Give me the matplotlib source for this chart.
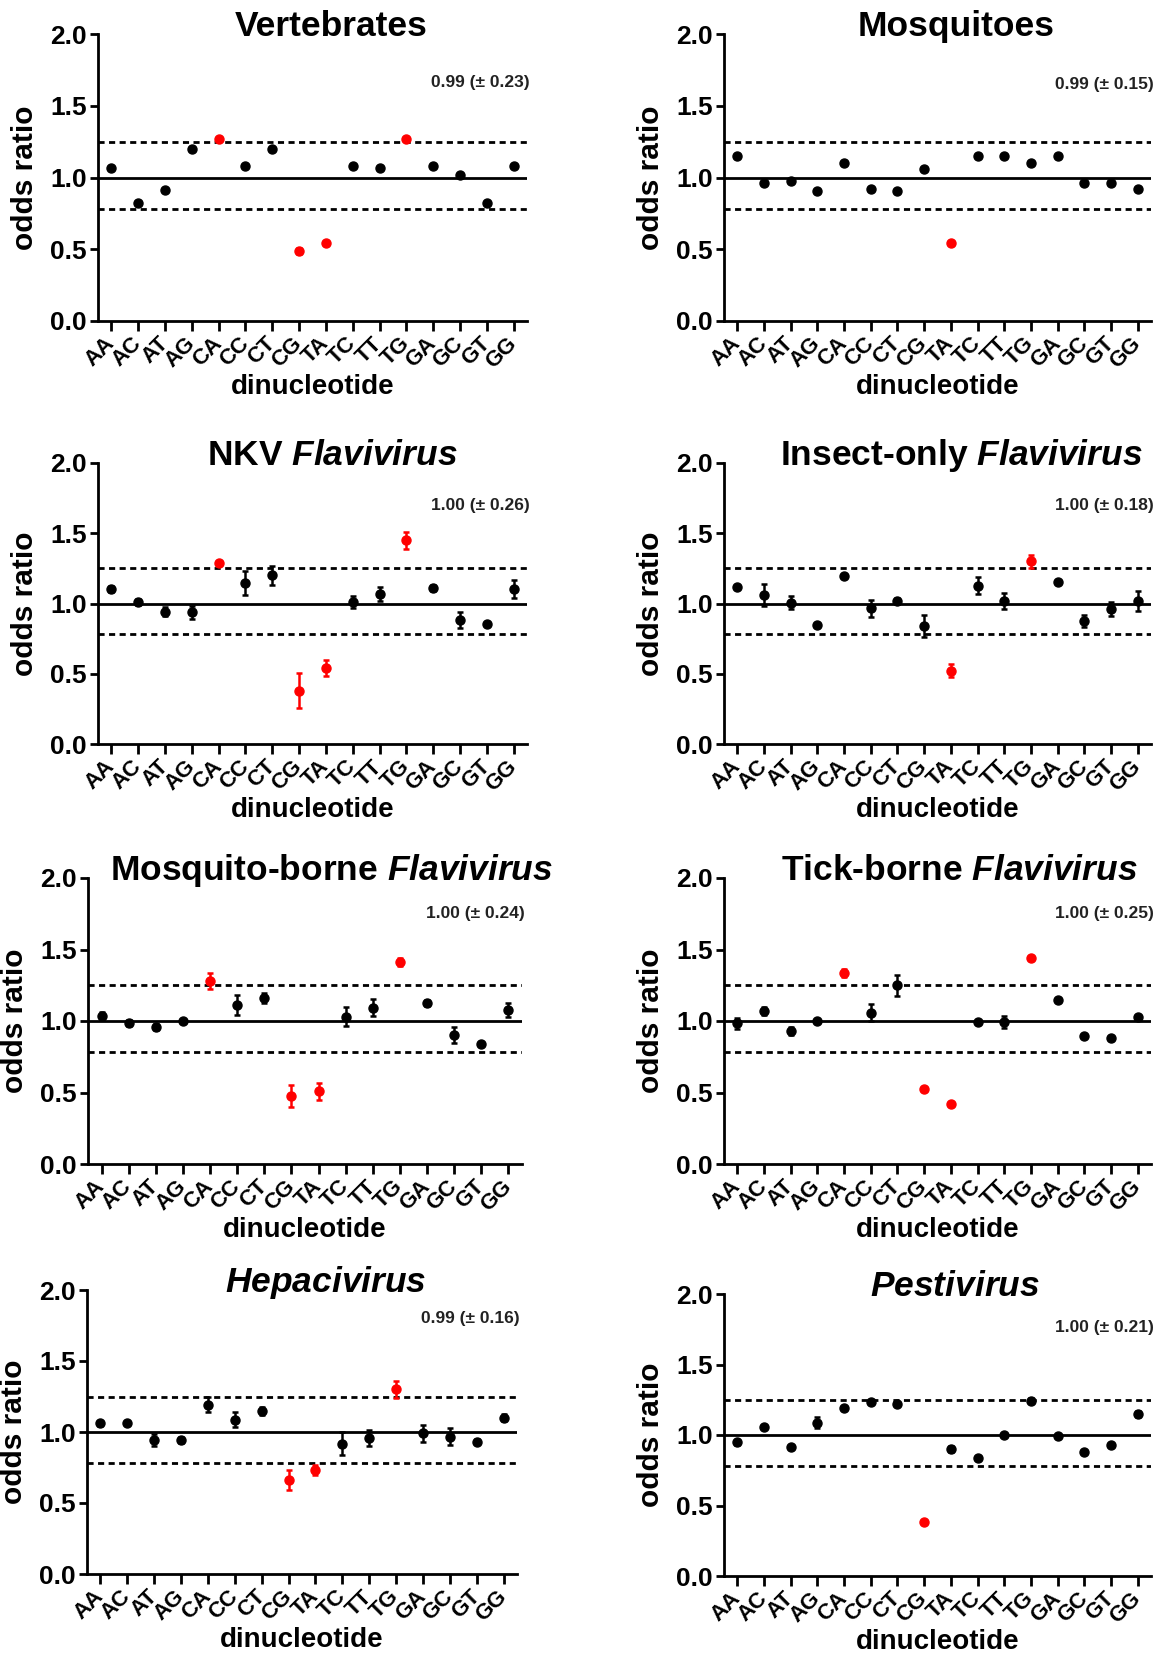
import numpy as np
import matplotlib
matplotlib.use("Agg")
import matplotlib.pyplot as plt
from matplotlib.transforms import offset_copy

plt.rcParams['font.family'] = ['Liberation Sans', 'DejaVu Sans']
plt.rcParams['font.weight'] = 'bold'
plt.rcParams['mathtext.fontset'] = 'custom'
plt.rcParams['mathtext.it'] = 'Liberation Sans:italic:bold'
plt.rcParams['mathtext.rm'] = 'Liberation Sans:bold'
plt.rcParams['mathtext.bf'] = 'Liberation Sans:bold'

dinucs = ["AA", "AC", "AT", "AG", "CA", "CC", "CT", "CG",
          "TA", "TC", "TT", "TG", "GA", "GC", "GT", "GG"]

titles = ["Vertebrates", "Mosquitoes",
          r"NKV $\mathit{Flavivirus}$", r"Insect-only $\mathit{Flavivirus}$",
          r"Mosquito-borne $\mathit{Flavivirus}$", r"Tick-borne $\mathit{Flavivirus}$",
          r"$\mathit{Hepacivirus}$", r"$\mathit{Pestivirus}$"]
summary = ["0.99 (± 0.23)", "0.99 (± 0.15)", "1.00 (± 0.26)", "1.00 (± 0.18)",
           "1.00 (± 0.24)", "1.00 (± 0.25)", "0.99 (± 0.16)", "1.00 (± 0.21)"]

# mean odds ratio per dinucleotide and error (half-length of bars)
vert = [1.065, 0.82, 0.91, 1.20, 1.267, 1.08, 1.20, 0.49,
        0.546, 1.077, 1.065, 1.267, 1.077, 1.02, 0.82, 1.08]
vert_err = [0, 0, 0, 0, 0, 0, 0, 0.02, 0, 0, 0, 0, 0, 0, 0, 0]
mosq = [1.15, 0.963, 0.975, 0.905, 1.10, 0.92, 0.905, 1.058,
        0.546, 1.15, 1.15, 1.10, 1.15, 0.963, 0.963, 0.92]
mosq_err = [0] * 16
nkv = [1.104, 1.01, 0.942, 0.937, 1.287, 1.144, 1.20, 0.38,
       0.542, 1.01, 1.07, 1.451, 1.109, 0.882, 0.855, 1.10]
nkv_err = [0.02, 0.02, 0.03, 0.046, 0.015, 0.087, 0.07, 0.127,
           0.058, 0.04, 0.05, 0.06, 0.02, 0.055, 0, 0.064]
insect = [1.115, 1.06, 1.005, 0.845, 1.197, 0.965, 1.016, 0.84,
          0.52, 1.127, 1.016, 1.30, 1.15, 0.873, 0.963, 1.016]
insect_err = [0, 0.08, 0.045, 0, 0.015, 0.058, 0.02, 0.08,
              0.046, 0.062, 0.058, 0.044, 0, 0.043, 0.051, 0.07]
mbfv = [1.035, 0.984, 0.958, 0.998, 1.28, 1.112, 1.158, 0.477,
        0.507, 1.03, 1.093, 1.414, 1.126, 0.902, 0.837, 1.077]
mbfv_err = [0.025, 0.02, 0.02, 0.015, 0.055, 0.07, 0.035, 0.077,
            0.056, 0.067, 0.058, 0.03, 0.02, 0.058, 0, 0.047]
tbfv = [0.984, 1.07, 0.93, 1.0, 1.337, 1.058, 1.249, 0.523,
        0.423, 0.993, 0.993, 1.442, 1.144, 0.895, 0.879, 1.028]
tbfv_err = [0.038, 0.03, 0.03, 0, 0.03, 0.06, 0.075, 0.015,
            0, 0.015, 0.045, 0, 0, 0, 0, 0]
hepaci = [1.06, 1.06, 0.944, 0.944, 1.193, 1.088, 1.147, 0.665,
          0.735, 0.916, 0.956, 1.30, 0.99, 0.967, 0.933, 1.10]
hepaci_err = [0.02, 0, 0.04, 0.02, 0.05, 0.05, 0.03, 0.07,
              0.035, 0.081, 0.058, 0.058, 0.058, 0.058, 0.02, 0.025]
pesti = [0.947, 1.06, 0.912, 1.088, 1.193, 1.235, 1.221, 0.384,
         0.90, 0.837, 1.0, 1.244, 0.993, 0.879, 0.93, 1.151]
pesti_err = [0.02, 0, 0, 0.04, 0, 0, 0, 0,
             0.02, 0, 0, 0.02, 0, 0, 0, 0.02]

values = [vert, mosq, nkv, insect, mbfv, tbfv, hepaci, pesti]
errors = [vert_err, mosq_err, nkv_err, insect_err, mbfv_err, tbfv_err, hepaci_err, pesti_err]

upper, lower = 1.25, 0.78   # over/under-represented thresholds

W, H = 1153, 1663
# panel boxes in pixels: left, top, right, bottom
boxes = [(98, 34, 527, 321), (724, 34, 1151, 321),
         (98, 463, 527, 744), (724, 463, 1151, 744),
         (88, 878, 522, 1164), (724, 878, 1151, 1164),
         (87, 1290, 517, 1574), (724, 1294, 1151, 1576)]
text_y = [1.66, 1.65, 1.70, 1.70, 1.75, 1.75, 1.80, 1.76]
title_x = [0.543, 0.543, 0.545, 0.556, 0.56, 0.552, 0.555, 0.542]

fig = plt.figure(figsize=(W / 100, H / 100), dpi=100)
x = np.arange(len(dinucs))

for i in range(8):
    l, t, r, b = boxes[i]
    ax = fig.add_axes([l / W, 1 - b / H, (r - l) / W, (b - t) / H])
    v = np.array(values[i])
    e = np.array(errors[i])
    red = (v > upper) | (v < lower)

    ax.axhline(1.0, color='black', lw=2, zorder=1)
    ax.axhline(upper, color='black', lw=2, ls=(0, (2.2, 1.6)), zorder=1)
    ax.axhline(lower, color='black', lw=2, ls=(0, (2.2, 1.6)), zorder=1)

    for mask, col in [(~red, 'black'), (red, '#ff0000')]:
        ax.errorbar(x[mask], v[mask], yerr=e[mask], fmt='o', color=col, ms=6.5,
                    elinewidth=1.8, capsize=2.5, capthick=1.8, zorder=3)

    ax.set_xlim(-0.5, 15.5)
    ax.set_ylim(0, 2.0)
    ax.set_yticks([0, 0.5, 1.0, 1.5, 2.0])
    ax.set_yticklabels(["0.0", "0.5", "1.0", "1.5", "2.0"], fontsize=19, fontweight='bold')
    ax.set_xticks(x)
    ax.set_xticklabels(dinucs, rotation=45, ha='right', va='center',
                       rotation_mode='anchor', fontsize=16, fontweight='bold')
    ax.tick_params(axis='both', direction='out', width=2, length=6, pad=2)
    ax.tick_params(axis='x', length=7, pad=7)
    for s in ['top', 'right']:
        ax.spines[s].set_visible(False)
    for s in ['left', 'bottom']:
        ax.spines[s].set_linewidth(2)

    ax.set_ylabel("odds ratio", fontsize=21.5, fontweight='bold', labelpad=8)
    ax.set_xlabel("dinucleotide", fontsize=20, fontweight='bold', labelpad=1)
    tt = offset_copy(ax.transAxes, fig=fig, x=0, y=-2, units='dots')
    ax.text(title_x[i], 1.0, titles[i], transform=tt, ha='center', va='baseline',
            fontsize=25.5, fontweight='bold')
    ax.text(15.6, text_y[i], summary[i], ha='right', va='center',
            fontsize=12.5, fontweight='bold', color='#222222')

fig.savefig("out.png", dpi=100)
